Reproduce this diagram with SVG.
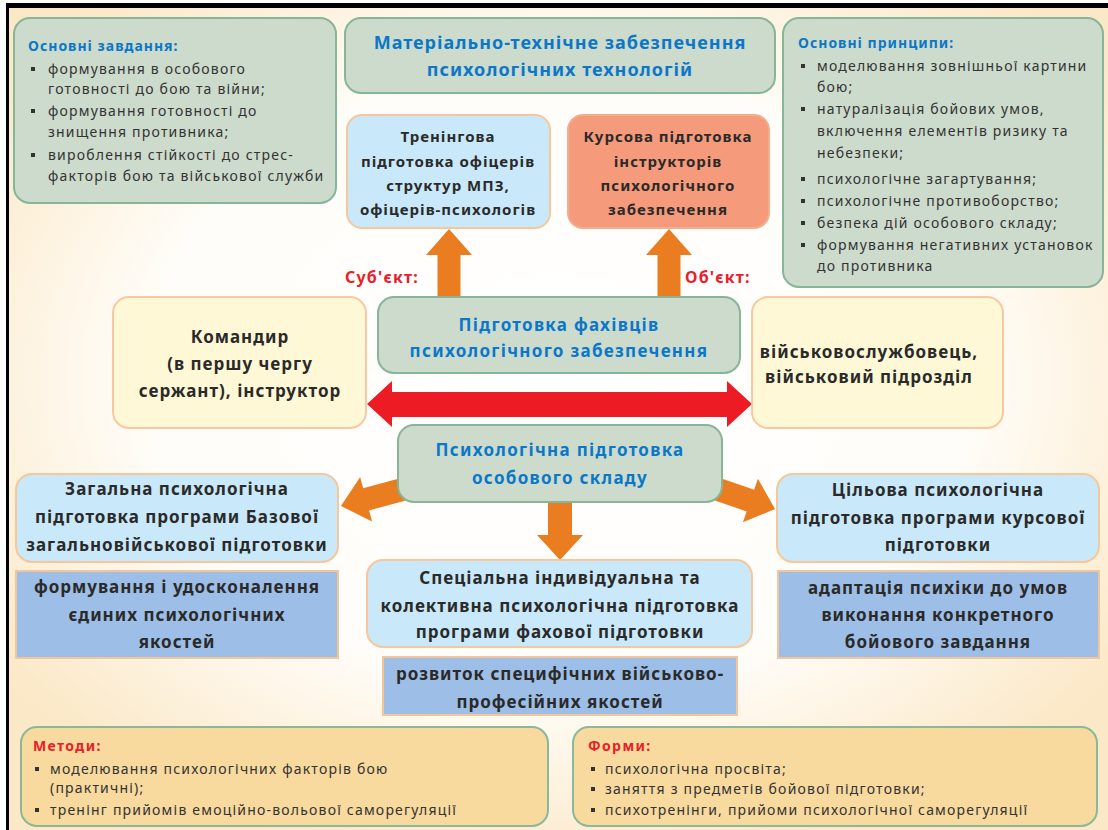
<svg xmlns="http://www.w3.org/2000/svg" width="1108" height="830" viewBox="0 0 1108 830">
<defs>
<radialGradient id="bg" cx="50%" cy="45%" r="62%">
<stop offset="0" stop-color="#ffffff"/>
<stop offset="0.6" stop-color="#fffdf9"/>
<stop offset="1" stop-color="#fbe8c6"/>
</radialGradient>
</defs>
<style>
.grn{fill:#cddbcc;stroke:#86b597;stroke-width:2}
.lb{fill:#c9e8f9;stroke:#f6c79b;stroke-width:2}
.sal{fill:#f59a7b;stroke:#f3ae8e;stroke-width:2}
.yel{fill:#fff8d6;stroke:#f8c9a0;stroke-width:2}
.db{fill:#9dbee6;stroke:#f5c59a;stroke-width:2}
.tan{fill:#f8d99e;stroke:#8ab898;stroke-width:2}
.oa{fill:#e97d1f}
.ra{fill:#ed1c24}
text{font-family:"Noto Sans","Open Sans","DejaVu Sans",sans-serif}
.bt{fill:#0b77c8;font-weight:700;font-size:17px;letter-spacing:1.3px;text-anchor:middle}
.bh{fill:#0b77c8;font-weight:700;font-size:14px;letter-spacing:1px}
.rh{fill:#e8202a;font-weight:700;font-size:14px;letter-spacing:1.4px}
.nt{fill:#2a2a2a;font-weight:700;font-size:17px;letter-spacing:1px;text-anchor:middle}
.st{fill:#2a2a2a;font-weight:700;font-size:15px;letter-spacing:1px;text-anchor:middle}
.li{fill:#333333;font-size:14px;letter-spacing:1.2px}
.lbl{fill:#e8202a;font-weight:700;font-size:16px;letter-spacing:1.2px}
.bul{fill:#333333}
</style>
<rect x="0" y="0" width="1108" height="830" fill="#ffffff"/>
<rect x="8" y="8" width="1100" height="822" fill="url(#bg)"/>
<rect x="6" y="3" width="1102" height="5" fill="#000"/>
<rect x="6" y="3" width="3" height="827" fill="#000"/>

<g id="connectors">
<path class="oa" d="M449,229 L426,255 L437.5,255 L437.5,302 L460.5,302 L460.5,255 L472,255 Z"/>
<path class="oa" d="M669,229 L646,255 L657.5,255 L657.5,302 L680.5,302 L680.5,255 L692,255 Z"/>
<path class="oa" d="M0,0 L-26,-23 L-26,-11.5 L-68,-11.5 L-68,11.5 L-26,11.5 L-26,23 Z" transform="translate(341,506) rotate(165)"/>
<path class="oa" d="M0,0 L-26,-23 L-26,-11.5 L-62,-11.5 L-62,11.5 L-26,11.5 L-26,23 Z" transform="translate(775,509) rotate(19)"/>
<path class="oa" d="M560,560 L537,535 L548,535 L548,498 L572,498 L572,535 L583,535 Z"/>
<path class="ra" d="M367,404 L392,381 L392,392 L727,392 L727,381 L752,404 L727,427 L727,417 L392,417 L392,427 Z"/>
</g>

<g id="n-zavdannia">
<rect class="grn" x="14" y="18" width="322" height="185" rx="16"/>
<text class="bh" x="28" y="51">Основні завдання:</text>
<rect class="bul" x="31" y="67" width="4" height="4"/>
<rect class="bul" x="31" y="109" width="4" height="4"/>
<rect class="bul" x="31" y="153" width="4" height="4"/>
<text class="li" x="48" y="74">формування в особового</text>
<text class="li" x="48" y="94">готовності до бою та війни;</text>
<text class="li" x="48" y="116">формування готовності до</text>
<text class="li" x="48" y="137">знищення противника;</text>
<text class="li" x="48" y="160">вироблення стійкості до стрес-</text>
<text class="li" x="48" y="181">факторів бою та військової служби</text>
</g>

<g id="n-material">
<rect class="grn" x="345" y="18" width="430" height="75" rx="16"/>
<text class="bt" x="560" y="49" style="font-size:18px;letter-spacing:1px">Матеріально-технічне забезпечення</text>
<text class="bt" x="560" y="76" style="font-size:18px;letter-spacing:1px">психологічних технологій</text>
</g>

<g id="n-treningova">
<rect class="lb" x="347" y="115" width="203" height="113" rx="15"/>
<text class="st" x="448" y="142">Тренінгова</text>
<text class="st" x="448" y="167">підготовка офіцерів</text>
<text class="st" x="448" y="191">структур МПЗ,</text>
<text class="st" x="448" y="215">офіцерів-психологів</text>
</g>

<g id="n-kursova">
<rect class="sal" x="568" y="115" width="201" height="113" rx="15"/>
<text class="st" x="668" y="142">Курсова підготовка</text>
<text class="st" x="668" y="167">інструкторів</text>
<text class="st" x="668" y="191">психологічного</text>
<text class="st" x="668" y="215">забезпечення</text>
</g>

<g id="n-pryntsypy">
<rect class="grn" x="783" y="18" width="320" height="269" rx="16"/>
<text class="bh" x="798" y="48">Основні принципи:</text>
<rect class="bul" x="801" y="64" width="4" height="4"/>
<rect class="bul" x="801" y="107" width="4" height="4"/>
<rect class="bul" x="801" y="177" width="4" height="4"/>
<rect class="bul" x="801" y="199" width="4" height="4"/>
<rect class="bul" x="801" y="221" width="4" height="4"/>
<rect class="bul" x="801" y="243" width="4" height="4"/>
<text class="li" x="817" y="71">моделювання зовнішньої картини</text>
<text class="li" x="817" y="92">бою;</text>
<text class="li" x="817" y="114">натуралізація бойових умов,</text>
<text class="li" x="817" y="136">включення елементів ризику та</text>
<text class="li" x="817" y="158">небезпеки;</text>
<text class="li" x="817" y="184">психологічне загартування;</text>
<text class="li" x="817" y="206">психологічне противоборство;</text>
<text class="li" x="817" y="228">безпека дій особового складу;</text>
<text class="li" x="817" y="250">формування негативних установок</text>
<text class="li" x="817" y="271">до противника</text>
</g>

<g id="labels">
<text class="lbl" x="345" y="283">Суб'єкт:</text>
<text class="lbl" x="685" y="283">Об'єкт:</text>
</g>

<g id="n-komandyr">
<rect class="yel" x="113" y="297" width="253" height="131" rx="16"/>
<text class="nt" x="240" y="343">Командир</text>
<text class="nt" x="240" y="370">(в першу чергу</text>
<text class="nt" x="240" y="397">сержант), інструктор</text>
</g>

<g id="n-viiskovo">
<rect class="yel" x="752" y="297" width="251" height="131" rx="16"/>
<text class="nt" x="869" y="358">військовослужбовець,</text>
<text class="nt" x="869" y="383">військовий підрозділ</text>
</g>

<g id="n-fakhivtsi">
<rect class="grn" x="378" y="297" width="362" height="76" rx="16"/>
<text class="bt" x="559" y="331">Підготовка фахівців</text>
<text class="bt" x="559" y="357">психологічного забезпечення</text>
</g>

<g id="n-psykholohichna">
<rect class="grn" x="398" y="425" width="324" height="77" rx="16"/>
<text class="bt" x="560" y="456">Психологічна підготовка</text>
<text class="bt" x="560" y="484">особового складу</text>
</g>

<g id="n-zahalna">
<rect class="lb" x="16" y="474" width="322" height="88" rx="16"/>
<text class="nt" x="177" y="495">Загальна психологічна</text>
<text class="nt" x="177" y="523">підготовка програми Базової</text>
<text class="nt" x="177" y="551">загальновійськової підготовки</text>
</g>

<g id="n-formuvannia">
<rect class="db" x="16" y="571" width="322" height="87"/>
<text class="nt" x="177" y="593">формування і удосконалення</text>
<text class="nt" x="177" y="621">єдиних психологічних</text>
<text class="nt" x="177" y="648">якостей</text>
</g>

<g id="n-spetsialna">
<rect class="lb" x="367" y="560" width="385" height="87" rx="16"/>
<text class="nt" x="560" y="584">Спеціальна індивідуальна та</text>
<text class="nt" x="560" y="612">колективна психологічна підготовка</text>
<text class="nt" x="560" y="638">програми фахової підготовки</text>
</g>

<g id="n-rozvytok">
<rect class="db" x="383" y="657" width="354" height="58"/>
<text class="nt" x="560" y="680">розвиток специфічних військово-</text>
<text class="nt" x="560" y="708">професійних якостей</text>
</g>

<g id="n-tsilova">
<rect class="lb" x="777" y="474" width="322" height="88" rx="16"/>
<text class="nt" x="938" y="496">Цільова психологічна</text>
<text class="nt" x="938" y="524">підготовка програми курсової</text>
<text class="nt" x="938" y="551">підготовки</text>
</g>

<g id="n-adaptatsiia">
<rect class="db" x="778" y="571" width="321" height="87"/>
<text class="nt" x="938" y="594">адаптація психіки до умов</text>
<text class="nt" x="938" y="621">виконання конкретного</text>
<text class="nt" x="938" y="648">бойового завдання</text>
</g>

<g id="n-metody">
<rect class="tan" x="21" y="727" width="527" height="99" rx="16"/>
<text class="rh" x="33" y="751">Методи:</text>
<rect class="bul" x="35" y="767" width="4" height="4"/>
<rect class="bul" x="35" y="808" width="4" height="4"/>
<text class="li" x="50" y="774">моделювання психологічних факторів бою</text>
<text class="li" x="50" y="793">(практичні);</text>
<text class="li" x="50" y="815">тренінг прийомів емоційно-вольової саморегуляції</text>
</g>

<g id="n-formy">
<rect class="tan" x="573" y="727" width="524" height="99" rx="16"/>
<text class="rh" x="588" y="751">Форми:</text>
<rect class="bul" x="591" y="767" width="4" height="4"/>
<rect class="bul" x="591" y="787" width="4" height="4"/>
<rect class="bul" x="591" y="808" width="4" height="4"/>
<text class="li" x="605" y="774">психологічна просвіта;</text>
<text class="li" x="605" y="794">заняття з предметів бойової підготовки;</text>
<text class="li" x="605" y="815">психотренінги, прийоми психологічної саморегуляції</text>
</g>
</svg>
